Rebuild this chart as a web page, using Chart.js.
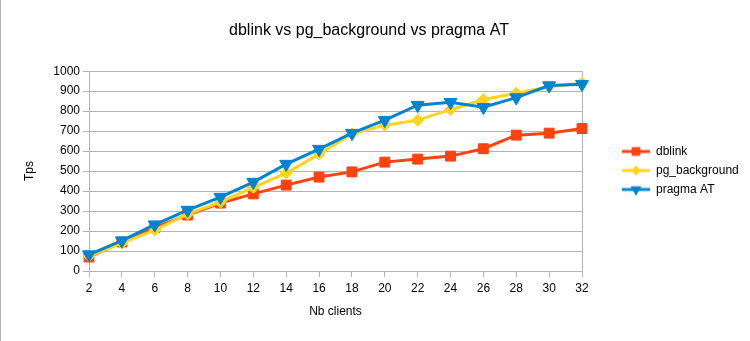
<!DOCTYPE html>
<html>
<head>
<meta charset="utf-8">
<script src="https://cdn.jsdelivr.net/npm/chart.js@4/dist/chart.umd.min.js"></script>
<style>
  html, body { margin: 0; padding: 0; background: #fff; }
  canvas { display: block; }
</style>
</head>
<body>
<canvas id="mycanvas" width="750" height="341"></canvas>
<script>
// nb of clients (x axis)
var clients = [2, 4, 6, 8, 10, 12, 14, 16, 18, 20, 22, 24, 26, 28, 30, 32];
// tps per series
var dblink       = [70, 145, 218, 280, 340, 386, 430, 470, 496, 545, 560, 575, 612, 680, 690, 713];
var pgBackground = [75, 140, 205, 285, 345, 418, 490, 585, 686, 730, 755, 808, 858, 890, 922, 940];
var pragmaAT     = [82, 152, 232, 305, 370, 445, 535, 610, 690, 755, 830, 845, 820, 868, 928, 935];

var gridColor = "#b3b3b3";
var fontFamily = "'Liberation Sans', Arial, sans-serif";

Chart.defaults.color = "#000";
Chart.defaults.font.family = fontFamily;
Chart.defaults.font.size = 12;

function toPoints(values) {
  var pts = [];
  for (var i in values) {
    pts.push({x: clients[i], y: values[i]});
  }
  return pts;
}

// small line + marker picture for the legend
function legendIcon(color, style, radius, rotation) {
  var c = document.createElement("canvas");
  c.width = 28;
  c.height = 14;
  var g = c.getContext("2d");
  g.strokeStyle = color;
  g.fillStyle = color;
  g.lineWidth = 3;
  g.beginPath();
  g.moveTo(0, 7);
  g.lineTo(28, 7);
  g.stroke();
  g.lineWidth = 1;
  Chart.helpers.drawPoint(g, {pointStyle: style, radius: radius, rotation: rotation, borderWidth: 1}, 14, 7);
  return c;
}

var series = [
  {label: "dblink", data: dblink, color: "#ff420e", style: "rect", radius: 7, rot: 0, iconR: 5.5},
  {label: "pg_background", data: pgBackground, color: "#ffd320", style: "rectRot", radius: 6, rot: 0, iconR: 4.5},
  {label: "pragma AT", data: pragmaAT, color: "#0084d1", style: "triangle", radius: 7.5, rot: 180, iconR: 5.5}
];

var datasets = [];
var icons = [];
for (var i in series) {
  var s = series[i];
  icons.push(legendIcon(s.color, s.style, s.iconR, s.rot));
  datasets.push({
    label: s.label,
    data: toPoints(s.data),
    order: series.length - i, // later series drawn on top
    fill: false,
    clip: false,
    lineTension: 0,
    borderWidth: 3,
    borderColor: s.color,
    backgroundColor: s.color,
    pointStyle: s.style,
    pointRadius: s.radius,
    pointRotation: s.rot,
    pointBorderWidth: 1,
    pointBorderColor: s.color,
    pointBackgroundColor: s.color
  });
}

var leftBorder = {
  id: "leftBorder",
  afterDraw: function(chart) {
    var ctx = chart.ctx;
    ctx.save();
    ctx.strokeStyle = "#b3b3b3";
    ctx.lineWidth = 1;
    ctx.beginPath();
    ctx.moveTo(0.5, 0);
    ctx.lineTo(0.5, chart.height);
    ctx.stroke();
    ctx.restore();
  }
};

var ctx = document.getElementById("mycanvas");
var LineGraph = new Chart(ctx, {
  type: "line",
  data: {datasets: datasets},
  plugins: [leftBorder],
  options: {
    responsive: false,
    animation: false,
    layout: {padding: {top: 0, left: 0, right: 12, bottom: 0}},
    plugins: {
      tooltip: {enabled: false},
      title: {
        display: true,
        text: "dblink vs pg_background vs pragma AT",
        color: "#000",
        font: {size: 16, weight: "normal", family: fontFamily},
        padding: {top: 21, bottom: 31}
      },
      legend: {
        position: "right",
        labels: {
          usePointStyle: true,
          pointStyleWidth: 28,
          padding: 7,
          font: {size: 12},
          generateLabels: function(chart) {
            var items = Chart.defaults.plugins.legend.labels.generateLabels(chart);
            items.sort(function(a, b) { return a.datasetIndex - b.datasetIndex; });
            for (var k in items) {
              items[k].pointStyle = icons[items[k].datasetIndex];
              items[k].rotation = 0;
            }
            return items;
          }
        }
      }
    },
    scales: {
      x: {
        type: "linear",
        min: 2,
        max: 32,
        afterFit: function(scale) { scale.height = 70; },
        ticks: {stepSize: 2, padding: 4, font: {size: 12}},
        grid: {
          color: function(c) { return c.tick && c.tick.value === 32 ? gridColor : "rgba(0,0,0,0)"; },
          tickColor: gridColor,
          tickLength: 6
        },
        border: {color: gridColor},
        title: {display: true, text: "Nb clients", font: {size: 12}, padding: {top: 0, bottom: 22}}
      },
      y: {
        min: 0,
        max: 1000,
        afterFit: function(scale) { scale.width = 89; },
        ticks: {
          stepSize: 100,
          padding: 3,
          font: {size: 12},
          callback: function(value) { return String(value); }
        },
        grid: {color: gridColor, tickColor: gridColor, tickLength: 6},
        border: {color: gridColor},
        title: {display: true, text: "Tps", font: {size: 12}, padding: {top: 22, bottom: 0}}
      },
      gap: {
        position: "right",
        display: true,
        afterFit: function(scale) { scale.width = 33; },
        ticks: {display: false},
        grid: {display: false},
        border: {display: false}
      }
    }
  }
});
</script>
</body>
</html>
